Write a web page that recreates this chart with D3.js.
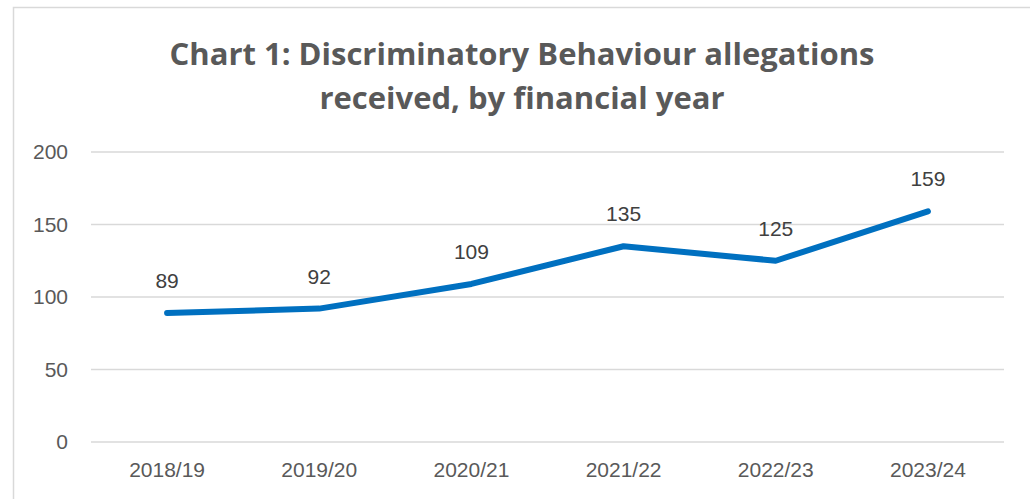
<!DOCTYPE html>
<html lang="en">
<head>
<meta charset="utf-8">
<title>Chart 1</title>
<script src="https://cdn.jsdelivr.net/npm/d3@7"></script>
<style>
  html, body { margin: 0; padding: 0; background: #fff; }
  svg { display: block; }
</style>
</head>
<body>
<div id="chart"></div>
<script>
var years = ["2018/19", "2019/20", "2020/21", "2021/22", "2022/23", "2023/24"];
var allegations = [89, 92, 109, 135, 125, 159];
var yTicks = [0, 50, 100, 150, 200];
var titleLines = ["Chart 1: Discriminatory Behaviour allegations", "received, by financial year"];

var W = 1030, H = 499;
var margin = {top: 152, right: 26, bottom: 57, left: 91};

var svg = d3.select("#chart").append("svg")
    .attr("width", W)
    .attr("height", H);

// chart frame, cut off at right and bottom like the source
svg.append("rect")
    .attr("x", 13.5).attr("y", 7.5)
    .attr("width", W + 20).attr("height", H + 20)
    .attr("fill", "#fff")
    .attr("stroke", "#d9d9d9")
    .attr("stroke-width", 1.5);

svg.selectAll(".title")
    .data(titleLines)
    .enter().append("text")
    .attr("class", "title")
    .attr("x", 522)
    .attr("y", function(d, i) { return 65 + i * 44; })
    .attr("text-anchor", "middle")
    .attr("font-family", "'Open Sans', sans-serif")
    .attr("font-weight", "bold")
    .attr("font-size", "31px")
    .attr("fill", "#595959")
    .text(function(d) { return d; });

var x = d3.scaleBand()
    .domain(years)
    .range([margin.left, W - margin.right]);

var y = d3.scaleLinear()
    .domain([0, 200])
    .range([H - margin.bottom, margin.top]);

var g = svg.append("g");

g.selectAll(".grid")
    .data(yTicks)
    .enter().append("line")
    .attr("class", "grid")
    .attr("x1", margin.left).attr("x2", W - margin.right)
    .attr("y1", function(d) { return y(d); })
    .attr("y2", function(d) { return y(d); })
    .attr("stroke", "#d9d9d9")
    .attr("stroke-width", 1.5);

var yAxis = svg.append("g")
    .attr("transform", "translate(" + (margin.left - 23) + ",0)")
    .call(d3.axisLeft(y).tickValues(yTicks).tickSize(0).tickPadding(0));
yAxis.select(".domain").remove();
yAxis.selectAll("text")
    .attr("font-family", "'Liberation Sans', Arial, sans-serif")
    .attr("font-size", "21px")
    .attr("fill", "#595959");

var xAxis = svg.append("g")
    .attr("transform", "translate(0," + (H - margin.bottom) + ")")
    .call(d3.axisBottom(x).tickSize(0).tickPadding(20));
xAxis.select(".domain").remove();
xAxis.selectAll("text")
    .attr("font-family", "'Liberation Sans', Arial, sans-serif")
    .attr("font-size", "21px")
    .attr("fill", "#595959");

var line = d3.line()
    .x(function(d, i) { return x(years[i]) + x.bandwidth() / 2; })
    .y(function(d) { return y(d); });

svg.append("path")
    .datum(allegations)
    .attr("d", line)
    .attr("fill", "none")
    .attr("stroke", "#0070c0")
    .attr("stroke-width", 6)
    .attr("stroke-linecap", "round")
    .attr("stroke-linejoin", "round");

svg.selectAll(".label")
    .data(allegations)
    .enter().append("text")
    .attr("class", "label")
    .attr("x", function(d, i) { return x(years[i]) + x.bandwidth() / 2; })
    .attr("y", function(d) { return y(d) - 25; })
    .attr("text-anchor", "middle")
    .attr("font-family", "'Liberation Sans', Arial, sans-serif")
    .attr("font-size", "21px")
    .attr("fill", "#404040")
    .text(function(d) { return d; });
</script>
</body>
</html>
